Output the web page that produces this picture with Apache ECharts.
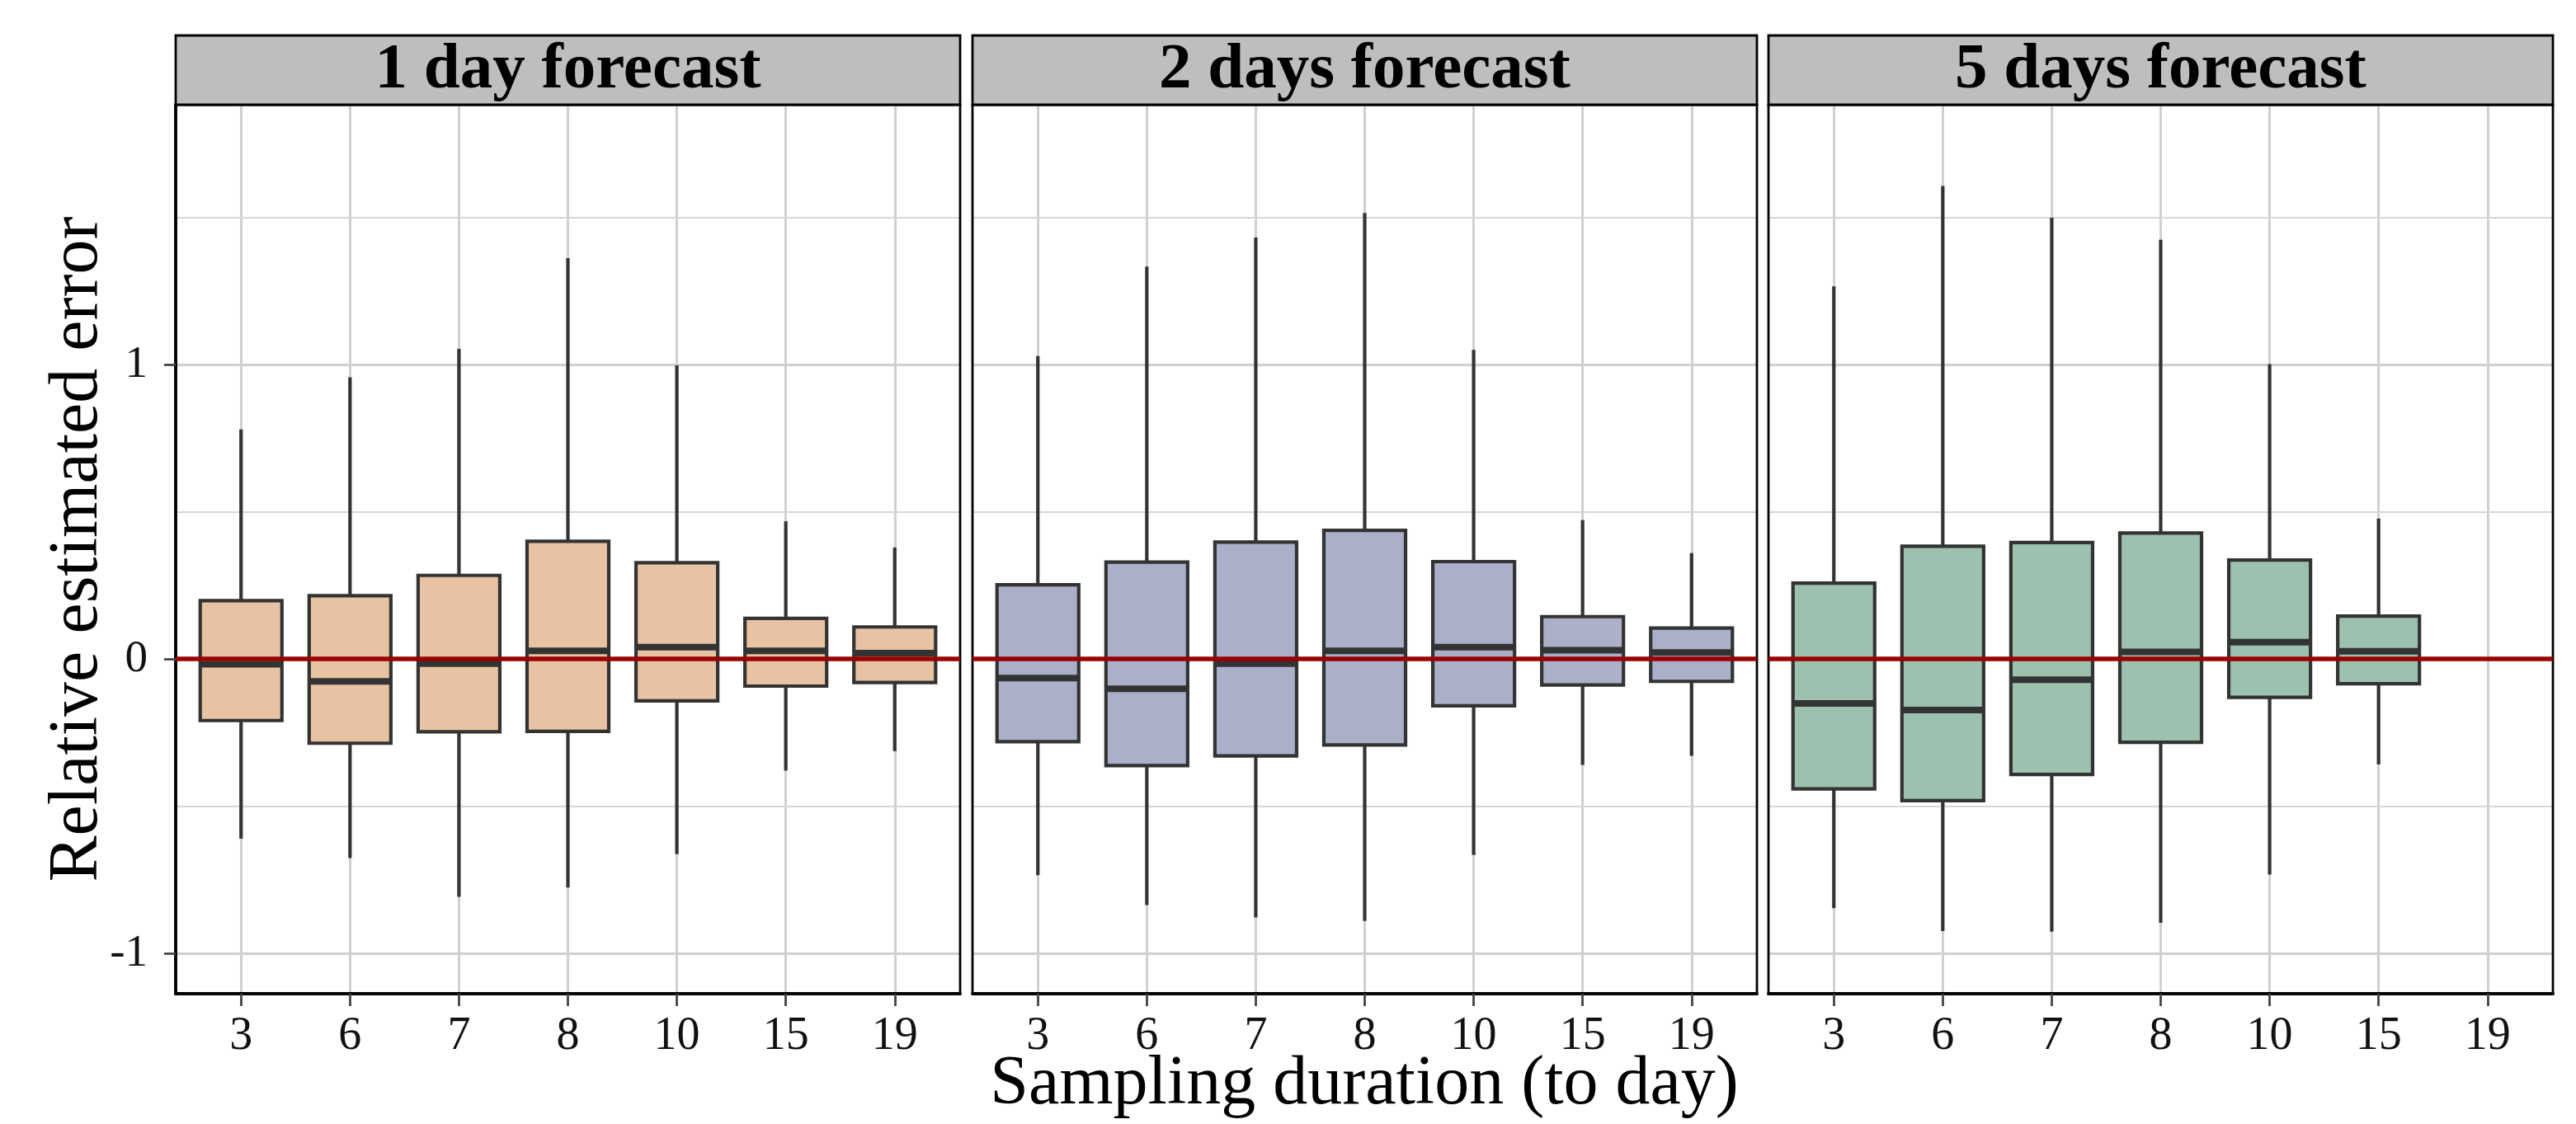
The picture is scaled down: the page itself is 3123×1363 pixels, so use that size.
<!DOCTYPE html>
<html>
<head>
<meta charset="utf-8">
<script src="https://cdn.jsdelivr.net/npm/echarts@6/dist/echarts.min.js"></script>
<style>
html,body{margin:0;padding:0;background:#fff;}
#chart{width:3123px;height:1363px;}
</style>
</head>
<body>
<div id="chart"></div>
<script>
// ---------- data ----------
const categories = ['3', '6', '7', '8', '10', '15', '19'];
const panelTitles = ['1 day forecast', '2 days forecast', '5 days forecast'];
const yTickValues = [-1, 0, 1];
const yMinorValues = [-0.5, 0.5, 1.5];
const referenceValue = 0;
const xAxisTitle = 'Sampling duration (to day)';
const yAxisTitle = 'Relative estimated error';
// each row: [lower whisker, Q1, median, Q3, upper whisker]
const stats1day = [
  [-0.610, -0.209, -0.018, 0.198, 0.780],
  [-0.676, -0.286, -0.076, 0.215, 0.957],
  [-0.808, -0.247, -0.016, 0.284, 1.054],
  [-0.776, -0.246, 0.028, 0.400, 1.362],
  [-0.663, -0.142, 0.040, 0.327, 0.998],
  [-0.379, -0.092, 0.028, 0.138, 0.468],
  [-0.313, -0.080, 0.020, 0.109, 0.379]
];
const stats2days = [
  [-0.734, -0.281, -0.065, 0.252, 1.029],
  [-0.836, -0.362, -0.101, 0.329, 1.333],
  [-0.878, -0.329, -0.016, 0.397, 1.432],
  [-0.890, -0.292, 0.028, 0.437, 1.515],
  [-0.666, -0.159, 0.040, 0.331, 1.050],
  [-0.360, -0.088, 0.030, 0.144, 0.472],
  [-0.329, -0.076, 0.022, 0.105, 0.360]
];
const stats5days = [
  [-0.846, -0.441, -0.151, 0.258, 1.266],
  [-0.924, -0.481, -0.173, 0.383, 1.607],
  [-0.926, -0.392, -0.070, 0.396, 1.499],
  [-0.896, -0.283, 0.024, 0.428, 1.424],
  [-0.732, -0.130, 0.057, 0.336, 1.002],
  [-0.358, -0.084, 0.026, 0.146, 0.477],
  null
];
const panelStats = [stats1day, stats2days, stats5days];

// ---------- styling / layout ----------
const panelColors = ['#E8C3A3', '#ABB0C8', '#9DC1AF'];
const FONT = '"Liberation Serif", "DejaVu Serif", serif';
const panelLefts = [213, 1179, 2144];
const panelWidth = 951;
const panelTop = 127;
const panelHeight = 1078;
const stripTop = 43;
const stripHeight = 84;
const Y_MIN = -1.137, Y_MAX = 1.883;
const X_MIN = -0.6, X_MAX = categories.length - 1 + 0.6;
const catIdx = categories.map((_, i) => i);
const boxWidthUnits = 0.75;
const edgeColor = '#333333';
const edgeWidth = 4.2;
const medianWidth = 8;

const grids = [], xAxes = [], yAxes = [], series = [], graphics = [];

panelLefts.forEach((left, p) => {
  grids.push({
    left: left, top: panelTop, width: panelWidth, height: panelHeight,
    show: true, borderColor: '#000', borderWidth: 2.8, backgroundColor: 'transparent',
    z: 5, containLabel: false, outerBoundsMode: 'none'
  });
  xAxes.push({
    gridIndex: p, type: 'value', min: X_MIN, max: X_MAX, z: 6,
    axisLine: { show: true, onZero: false, lineStyle: { color: '#000', width: 3.8 } },
    axisTick: { show: true, customValues: catIdx, length: 15, lineStyle: { color: '#444', width: 2.8 } },
    axisLabel: {
      show: true, customValues: catIdx, margin: 24,
      formatter: v => categories[Math.round(v)],
      fontSize: 56, fontFamily: FONT, color: '#111'
    },
    splitLine: { show: false }, minorSplitLine: { show: false }
  });
  if (p === 0) {
    yAxes.push({
      gridIndex: p, type: 'value', min: Y_MIN, max: Y_MAX, z: 6,
      axisLine: { show: true, onZero: false, lineStyle: { color: '#000', width: 3.8 } },
      axisTick: { show: true, customValues: yTickValues, length: 14, lineStyle: { color: '#444', width: 2.8 } },
      axisLabel: {
        show: true, customValues: yTickValues, margin: 34,
        formatter: v => String(Math.round(v)),
        fontSize: 55, fontFamily: FONT, color: '#111'
      },
      splitLine: { show: false }
    });
  } else {
    yAxes.push({ gridIndex: p, type: 'value', min: Y_MIN, max: Y_MAX, show: false, splitLine: { show: false } });
  }

  const data = [];
  panelStats[p].forEach((row, i) => { if (row) data.push([i].concat(row)); });
  const fill = panelColors[p];

  const gridLineData = []
    .concat(catIdx.map(v => ({ xAxis: v, lineStyle: { color: '#D0D0D0', width: 3, type: 'solid' } })))
    .concat(yTickValues.map(v => ({ yAxis: v, lineStyle: { color: '#D0D0D0', width: 3, type: 'solid' } })))
    .concat(yMinorValues.map(v => ({ yAxis: v, lineStyle: { color: '#D6D6D6', width: 2, type: 'solid' } })));

  series.push({
    type: 'custom', xAxisIndex: p, yAxisIndex: p, z: 2,
    encode: { x: 0, y: [1, 2, 3, 4, 5] },
    data: data,
    renderItem: function (params, api) {
      const x = api.value(0);
      const lo = api.coord([x, api.value(1)]);
      const q1 = api.coord([x, api.value(2)]);
      const med = api.coord([x, api.value(3)]);
      const q3 = api.coord([x, api.value(4)]);
      const hi = api.coord([x, api.value(5)]);
      const half = api.size([boxWidthUnits, 0])[0] / 2;
      return {
        type: 'group',
        children: [
          { type: 'line', shape: { x1: hi[0], y1: hi[1], x2: q3[0], y2: q3[1] }, style: { stroke: edgeColor, lineWidth: edgeWidth } },
          { type: 'line', shape: { x1: q1[0], y1: q1[1], x2: lo[0], y2: lo[1] }, style: { stroke: edgeColor, lineWidth: edgeWidth } },
          { type: 'rect', shape: { x: q3[0] - half, y: q3[1], width: 2 * half, height: q1[1] - q3[1] },
            style: { fill: fill, stroke: edgeColor, lineWidth: edgeWidth } },
          { type: 'line', shape: { x1: med[0] - half, y1: med[1], x2: med[0] + half, y2: med[1] },
            style: { stroke: edgeColor, lineWidth: medianWidth } }
        ]
      };
    },
    markLine: {
      silent: true, symbol: ['none', 'none'], z: 1, animation: false,
      label: { show: false }, emphasis: { disabled: true },
      data: gridLineData
    }
  });
  series.push({
    type: 'line', xAxisIndex: p, yAxisIndex: p, data: [], z: 10,
    markLine: {
      silent: true, symbol: ['none', 'none'], z: 10, animation: false,
      label: { show: false }, emphasis: { disabled: true },
      lineStyle: { color: '#990000', width: 5.5, type: 'solid' },
      data: [{ yAxis: referenceValue }]
    }
  });

  graphics.push({
    type: 'rect', z: 20,
    shape: { x: left, y: stripTop, width: panelWidth, height: stripHeight },
    style: { fill: '#BEBEBE', stroke: '#000', lineWidth: 2.8 }
  });
  graphics.push({
    type: 'text', z: 21, x: left + panelWidth / 2, y: stripTop + stripHeight / 2 + 1,
    style: { text: panelTitles[p], fontSize: 79, fontWeight: 'bold', fontFamily: FONT,
             fill: '#000', align: 'center', verticalAlign: 'middle' }
  });
});

graphics.push({
  type: 'text', z: 21, x: (panelLefts[0] + panelLefts[2] + panelWidth) / 2, y: 1316,
  style: { text: xAxisTitle, fontSize: 84, fontFamily: FONT, fill: '#000', align: 'center', verticalAlign: 'middle' }
});
graphics.push({
  type: 'text', z: 21, x: 95, y: panelTop + panelHeight / 2, rotation: Math.PI / 2,
  style: { text: yAxisTitle, fontSize: 84, fontFamily: FONT, fill: '#000', align: 'center', verticalAlign: 'middle' }
});

const chart = echarts.init(document.getElementById('chart'), null, { renderer: 'canvas' });
chart.setOption({
  animation: false,
  backgroundColor: '#ffffff',
  grid: grids,
  xAxis: xAxes,
  yAxis: yAxes,
  series: series,
  graphic: graphics,
  tooltip: { show: false }
});
</script>
</body>
</html>
